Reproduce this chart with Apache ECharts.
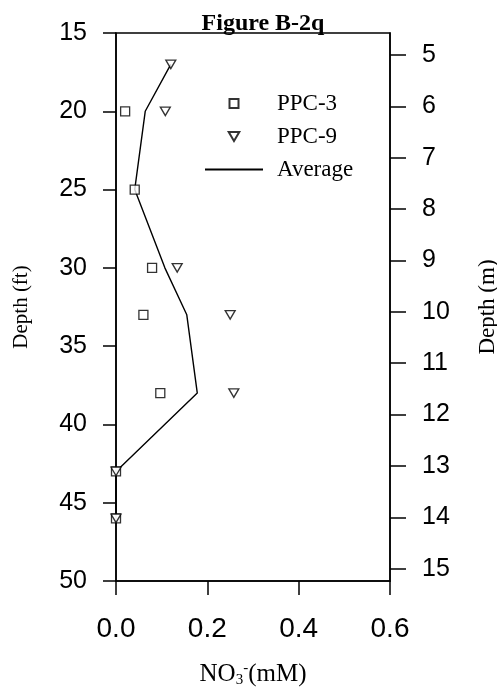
<!DOCTYPE html>
<html>
<head>
<meta charset="utf-8">
<script src="https://cdn.jsdelivr.net/npm/echarts@6/dist/echarts.min.js"></script>
<style>
html,body{margin:0;padding:0;background:#fff;}
#chart{width:497px;height:692px;}
</style>
</head>
<body>
<div id="chart"></div>
<script>
// Data (NO3- in mM vs depth in ft)
const ppc3Depth = [20, 25, 30, 33, 38, 43, 46];
const ppc3Values = [0.02, 0.041, 0.079, 0.06, 0.097, 0, 0];
const ppc9Depth = [17, 20, 30, 33, 38, 43, 46];
const ppc9Values = [0.12, 0.108, 0.134, 0.25, 0.258, 0, 0];
const avgDepth = [17, 20, 25, 30, 33, 38, 43, 46];
const avgValues = [0.12, 0.064, 0.041, 0.107, 0.155, 0.178, 0, 0];
const meterTicks = [5, 6, 7, 8, 9, 10, 11, 12, 13, 14, 15];
const FT_PER_M = 3.28084;

const pairs = (xs, ys) => xs.map((x, i) => [x, ys[i]]);

const sans = 'Liberation Sans';
const serif = 'Liberation Serif';
const downTri = 'path://M0,0 L10,0 L5,8.5 Z';
const square = 'path://M0,0 L10,0 L10,10 L0,10 Z';

const chart = echarts.init(document.getElementById('chart'), null, {renderer: 'canvas'});
chart.setOption({
  animation: false,
  backgroundColor: '#fff',
  title: {
    text: 'Figure B-2q',
    left: 258,
    textAlign: 'center',
    top: 7,
    textStyle: {fontFamily: serif, fontWeight: 'bold', fontSize: 24, color: '#000'}
  },
  grid: {
    left: 116, top: 33, right: 107, bottom: 111,
    containLabel: false,
    outerBoundsMode: 'none',
    show: true, borderColor: '#000', borderWidth: 1.5, backgroundColor: 'transparent'
  },
  legend: {
    orient: 'vertical',
    left: 204,
    top: 92,
    padding: 0,
    itemWidth: 58,
    itemHeight: 9,
    itemGap: 10,
    symbolKeepAspect: true,
    textStyle: {fontFamily: serif, fontSize: 23, color: '#000', lineHeight: 22, padding: [0, 0, 0, 9]},
    data: [
      {name: 'PPC-3'},
      {name: 'PPC-9'},
      {name: 'Average', itemStyle: {opacity: 0}}
    ]
  },
  xAxis: {
    type: 'value',
    min: 0, max: 0.6, interval: 0.2,
    name: 'NO{sub|3}{sup|-}(mM)',
    nameLocation: 'middle',
    nameGap: 80,
    nameTextStyle: {
      fontFamily: serif, fontSize: 25, color: '#000',
      rich: {
        sub: {fontFamily: serif, fontSize: 15, color: '#000', verticalAlign: 'bottom', padding: [12, 0, 0, 0]},
        sup: {fontFamily: serif, fontSize: 15, color: '#000', verticalAlign: 'top', padding: [0, 0, 10, 0]}
      }
    },
    axisLine: {lineStyle: {color: '#000', width: 1.5}},
    axisTick: {show: true, inside: false, length: 14, lineStyle: {color: '#000', width: 1.5}},
    axisLabel: {fontFamily: sans, fontSize: 28, color: '#000', margin: 34, formatter: v => v.toFixed(1)},
    splitLine: {show: false}
  },
  yAxis: [
    {
      type: 'value',
      inverse: true,
      min: 15, max: 50, interval: 5,
      position: 'left',
      name: 'Depth (ft)',
      nameLocation: 'middle',
      nameRotate: 90,
      nameGap: 84,
      nameTextStyle: {fontFamily: serif, fontSize: 21, color: '#000'},
      axisLine: {show: true, lineStyle: {color: '#000', width: 1.5}},
      axisTick: {show: true, inside: false, length: 13, lineStyle: {color: '#000', width: 1.5}},
      axisLabel: {fontFamily: sans, fontSize: 25, color: '#000', margin: 29},
      splitLine: {show: false}
    },
    {
      type: 'value',
      inverse: true,
      min: 15 / FT_PER_M, max: 50 / FT_PER_M,
      position: 'right',
      name: 'Depth (m)',
      nameLocation: 'middle',
      nameRotate: 90,
      nameGap: 86,
      nameTextStyle: {fontFamily: serif, fontSize: 23, color: '#000'},
      axisLine: {show: true, lineStyle: {color: '#000', width: 1.5}},
      axisTick: {show: true, inside: false, length: 16, customValues: meterTicks, lineStyle: {color: '#000', width: 1.5}},
      axisLabel: {fontFamily: sans, fontSize: 25, color: '#000', margin: 32, customValues: meterTicks},
      splitLine: {show: false}
    }
  ],
  series: [
    {
      name: 'Average',
      type: 'line',
      yAxisIndex: 0,
      symbol: 'none',
      lineStyle: {color: '#000', width: 1.4},
      itemStyle: {color: '#000'},
      data: pairs(avgValues, avgDepth),
      z: 2
    },
    {
      name: 'PPC-3',
      type: 'scatter',
      yAxisIndex: 0,
      symbol: square,
      symbolSize: 9,
      itemStyle: {color: '#fff', borderColor: '#000', borderWidth: 1.3},
      data: pairs(ppc3Values, ppc3Depth),
      z: 3
    },
    {
      name: 'PPC-9',
      type: 'scatter',
      yAxisIndex: 0,
      symbol: downTri,
      symbolSize: [10, 8.5],
      itemStyle: {color: '#fff', borderColor: '#000', borderWidth: 1.3},
      data: pairs(ppc9Values, ppc9Depth),
      z: 3
    }
  ]
});
</script>
</body>
</html>
